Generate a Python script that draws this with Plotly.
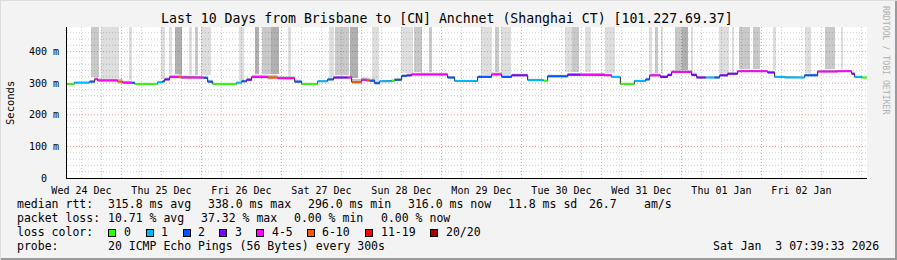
import datetime as dt
import plotly.graph_objects as go

# ---------------- data ----------------
START = dt.datetime(2025, 12, 24, 7, 39, 33)
SPAN_H = 240

# median rtt segments: start hour, value (ms), loss class
seg_start_h = [0, 2.2, 6.8, 8.3, 9.2, 15.2, 16.7, 19.4, 20.3, 27.2, 28.7, 29.3, 30.8, 33.5, 34.4,
               41, 42.2, 43.7, 50.9, 52.4, 53.9, 55.4, 60.2, 63.2, 68.3, 70.4, 75.2, 78.2, 80,
               84.2, 85.4, 88.4, 89.9, 90.8, 92.3, 93.8, 97.4, 98.3, 100.4, 101.9, 103.4, 114.2,
               116.3, 123.2, 127.4, 130.4, 133.4, 138.2, 143, 144.2, 150.2, 154, 161.3, 163.4,
               166, 170.2, 173.6, 174.8, 178, 180.2, 181.4, 187.4, 188.9, 191.6, 194.3, 195.8,
               198.2, 201.2, 210.2, 212.3, 215.3, 221.3, 225.2, 231.2, 235.4, 236.3, 238.4]
seg_ms = [298, 302, 305, 313, 309, 305, 302, 301, 298, 303, 306, 312, 320, 320, 318,
          317, 305, 298, 302, 306, 311, 320, 318, 316, 305, 298, 306, 312, 318,
          318, 304, 311, 309, 308, 300, 306, 308, 311, 323, 325, 328, 318,
          307, 320, 328, 320, 325, 310, 308, 322, 327, 327, 325, 320,
          298, 307, 312, 325, 320, 326, 336, 326, 318, 318, 318, 325,
          330, 338, 334, 320, 318, 325, 337, 338, 330, 320, 318]
seg_loss = [0, 1, 2, 4, 4, 5, 4, 2, 0, 1, 2, 3, 4, 5, 4,
            2, 2, 0, 1, 2, 3, 4, 5, 4, 2, 0, 1, 2, 3,
            4, 5, 4, 5, 2, 2, 1, 0, 2, 2, 3, 4, 2,
            1, 2, 4, 2, 3, 1, 0, 2, 3, 4, 4, 1,
            0, 1, 2, 4, 3, 3, 4, 3, 3, 1, 2, 3,
            3, 4, 3, 1, 1, 2, 4, 4, 3, 1, 0]
seg_smoke = [2, 3, 5, 6, 6, 9, 6, 5, 2, 4, 5, 6, 7, 9, 6,
             6, 6, 2, 3, 5, 6, 7, 9, 6, 6, 2, 4, 5, 6,
             6, 9, 7, 8, 6, 6, 4, 3, 5, 6, 6, 5, 5,
             3, 5, 6, 5, 5, 4, 3, 5, 5, 5, 5, 4,
             2, 4, 5, 6, 6, 6, 5, 7, 5, 4, 5, 6,
             5, 4, 5, 4, 3, 5, 5, 4, 5, 4, 2]

# loss "smoke" bars reaching the top: start hour, end hour, shade level
bar_start_h = [7.3, 10.3, 18.5, 28.3, 30.5, 32.3, 36.5, 38.3, 40.1, 51.5, 56.3, 58.4, 61.1, 66.2,
               78.5, 80.3, 84.8, 91.4, 100.1, 104.0, 108.5, 124.3, 128.3, 130.3, 149.3, 151.4,
               155.3, 161.3, 174.5, 176.3, 178.1, 182.3, 184.4, 187.1, 195.5, 199.4, 201.5,
               205.9, 211.9, 221.3, 227.3, 232.3]
bar_end_h = [9.5, 15.5, 19.4, 29.3, 31.6, 34.6, 37.6, 39.2, 43.1, 53.0, 57.5, 61.1, 63.5, 67.1,
             80.0, 84.5, 87.2, 93.5, 103.7, 106.4, 109.4, 127.6, 129.5, 133.3, 151.4, 153.5,
             157.3, 164.3, 175.6, 177.2, 178.9, 184.4, 186.2, 187.9, 198.5, 200.0, 205.0,
             208.0, 212.6, 223.3, 230.3, 232.8]
bar_shade = [2, 1, 1, 1, 1, 3, 1, 2, 1, 1, 3, 2, 3, 1,
             1, 2, 3, 1, 1, 2, 2, 1, 2, 1, 1, 2,
             1, 1, 1, 2, 1, 2, 3, 1, 1, 1, 2,
             2, 1, 1, 2, 1]

loss_labels = ["0", "1", "2", "3", "4-5", "6-10", "11-19", "20/20"]
loss_colors = ["#26ff00", "#00b8ff", "#0059ff", "#7e00ff", "#ff00ff", "#ff5500", "#ff0000", "#a10000"]
shade_colors = {1: "rgba(0,0,0,0.13)", 2: "rgba(0,0,0,0.21)", 3: "rgba(0,0,0,0.31)"}

day_labels = ["Wed 24 Dec", "Thu 25 Dec", "Fri 26 Dec", "Sat 27 Dec", "Sun 28 Dec",
              "Mon 29 Dec", "Tue 30 Dec", "Wed 31 Dec", "Thu 01 Jan", "Fri 02 Jan"]
y_major = [100, 200, 300, 400]
y_minor = [v for v in range(20, 480, 20) if v % 100 != 0]
y_ticks = [0, 100, 200, 300, 400]
y_ticktext = ["0\u00a0\u00a0", "100 m", "200 m", "300 m", "400 m"]
Y_MAX = 478

title = "Last 10 Days from Brisbane to [CN] Anchnet (Shanghai CT) [101.227.69.37]"

# ---------------- helpers ----------------
def T(h):
    return START + dt.timedelta(hours=h)

seg_end_h = seg_start_h[1:] + [SPAN_H]

def median_at(h):
    for s, e, v, sm in zip(seg_start_h, seg_end_h, seg_ms, seg_smoke):
        if s <= h < e:
            return v, sm
    return seg_ms[-1], seg_smoke[-1]

fig = go.Figure()

# loss bars from the top
bx, by, bb, bw, bc = [], [], [], [], []
for s, e, sh in zip(bar_start_h, bar_end_h, bar_shade):
    mid = (s + e) / 2
    v, sm = median_at(mid)
    base = v + sm + 2
    bx.append(T(mid))
    bb.append(base)
    by.append(Y_MAX - base)
    bw.append((e - s) * 3600 * 1000)
    bc.append(shade_colors[sh])
fig.add_trace(go.Bar(x=bx, y=by, base=bb, width=bw, marker=dict(color=bc, line=dict(width=0)),
                     hoverinfo="skip"))

# smoke band
sx = [T(h) for h in seg_start_h] + [T(SPAN_H)]
lo = [v - sm * 0.6 for v, sm in zip(seg_ms, seg_smoke)]
hi = [v + sm for v, sm in zip(seg_ms, seg_smoke)]
lo.append(lo[-1]); hi.append(hi[-1])
fig.add_trace(go.Scatter(x=sx, y=lo, mode="lines", line=dict(width=0, shape="hv"), hoverinfo="skip"))
fig.add_trace(go.Scatter(x=sx, y=hi, mode="lines", line=dict(width=0, shape="hv"), fill="tonexty",
                         fillcolor="rgba(0,0,0,0.24)", hoverinfo="skip"))

# dark step line (transitions)
stx, sty = [], []
for s, e, v in zip(seg_start_h, seg_end_h, seg_ms):
    stx += [T(s), T(e)]
    sty += [v, v]
fig.add_trace(go.Scatter(x=stx, y=sty, mode="lines", line=dict(color="#202020", width=1),
                         hoverinfo="skip"))

# coloured median segments by loss class
for ci, col in enumerate(loss_colors):
    xs, ys = [], []
    for s, e, v, c in zip(seg_start_h, seg_end_h, seg_ms, seg_loss):
        if c == ci:
            xs += [T(s), T(e), None]
            ys += [v, v, None]
    if xs:
        fig.add_trace(go.Scatter(x=xs, y=ys, mode="lines", line=dict(color=col, width=2),
                                 hoverinfo="skip"))

# axis arrows
fig.add_trace(go.Scatter(x=[T(SPAN_H + 1.3)], y=[0], mode="markers", cliponaxis=False,
                         marker=dict(symbol="triangle-right", size=7, color="#8b1a1a"),
                         hoverinfo="skip"))
fig.add_trace(go.Scatter(x=[T(0)], y=[Y_MAX + 15], mode="markers", cliponaxis=False,
                         marker=dict(symbol="triangle-up", size=7, color="#8b1a1a"),
                         hoverinfo="skip"))
# carrier for label axis
fig.add_trace(go.Scatter(x=[None], y=[None], xaxis="x2", hoverinfo="skip"))

midnights = [dt.datetime(2025, 12, 25) + dt.timedelta(days=i) for i in range(9)]
six_h = [dt.datetime(2025, 12, 24, 12) + dt.timedelta(hours=6 * i) for i in range(40)]
six_h = [t for t in six_h if t.hour != 0 and t <= T(SPAN_H)]
noons = [dt.datetime(2025, 12, 24, 12) + dt.timedelta(days=i) for i in range(10)]

FONT = "DejaVu Sans Mono"
RED = "#ff9a9a"
GREY = "#cfcfcf"
DOT = "1px,2px"

fig.update_layout(
    width=897, height=260,
    margin=dict(l=67, r=30, t=27, b=82, pad=0),
    paper_bgcolor="#f3f3f3", plot_bgcolor="#ffffff",
    showlegend=False, barmode="overlay", bargap=0,
    font=dict(family=FONT, size=10, color="#000000"),
    xaxis=dict(type="date", range=[T(0), T(SPAN_H)], showticklabels=False, ticks="",
               showgrid=False, zeroline=False, showline=True, linecolor="#000000", linewidth=1),
    xaxis2=dict(type="date", overlaying="x", range=[T(0), T(SPAN_H)], tickmode="array",
                tickvals=noons, ticktext=day_labels, showgrid=False, zeroline=False, ticks="",
                side="bottom", ticklabelstandoff=5,
                tickfont=dict(family=FONT, size=10, color="#000000")),
    yaxis=dict(range=[0, Y_MAX], tickmode="array", tickvals=y_ticks, ticktext=y_ticktext,
               showgrid=False, zeroline=False,
               showline=True, linecolor="#000000", linewidth=1, ticks="", ticklabelstandoff=5,
               tickfont=dict(family=FONT, size=10, color="#000000")),
)

shapes = []
for t in six_h:
    shapes.append(dict(type="line", xref="x", yref="paper", x0=t, x1=t, y0=0, y1=1,
                       layer="below", line=dict(color=GREY, width=1, dash=DOT)))
for v in y_minor:
    shapes.append(dict(type="line", xref="paper", yref="y", x0=0, x1=1, y0=v, y1=v,
                       layer="below", line=dict(color=GREY, width=1, dash=DOT)))
for m in midnights:
    shapes.append(dict(type="line", xref="x", yref="paper", x0=m, x1=m, y0=0, y1=1,
                       layer="below", line=dict(color=RED, width=1, dash=DOT)))
for v in y_major:
    shapes.append(dict(type="line", xref="paper", yref="y", x0=0, x1=1, y0=v, y1=v,
                       layer="below", line=dict(color=RED, width=1, dash=DOT)))

L, W, TOP, H = 67, 800, 27, 151
def px(x):
    return (x - L) / W
def py(y):
    return (TOP + H - y) / H

ann = []
def text(x, y, s, size=11.5, anchor="left", color="#000000", angle=0):
    ann.append(dict(x=px(x), y=py(y), xref="paper", yref="paper", text=s, showarrow=False,
                    xanchor=anchor, yanchor="middle", textangle=angle,
                    font=dict(family=FONT, size=size, color=color), borderpad=0))

text(446.5, 19, title, size=13.2, anchor="center")
text(10, 103, "Seconds", size=10.5, anchor="center", angle=-90)
text(886, 60, "RRDTOOL / TOBI OETIKER", size=8.2, anchor="center", color="#b0b0b0", angle=90)

# legend lines
text(16, 204, "median rtt:")
for x, s in zip([107.3, 207.3, 307.3, 407.3, 507, 588, 643],
                ["315.8 ms avg", "338.0 ms max", "296.0 ms min", "316.0 ms now", "11.8 ms sd",
                 "26.7", "am/s"]):
    text(x, 204, s)
text(16, 218, "packet loss:")
for x, s in zip([107.3, 200, 292.7, 380], ["10.71 % avg", "37.32 % max", "0.00 % min", "0.00 % now"]):
    text(x, 218, s)
text(16, 232, "loss color:")
box_x = [108.3, 145.7, 182.7, 219.3, 256, 306.7, 365, 430]
for bxp, lab, col in zip(box_x, loss_labels, loss_colors):
    ann.append(dict(x=px(bxp), y=py(232.8), xref="paper", yref="paper", text=" ", showarrow=False,
                    xanchor="left", yanchor="middle", width=6, height=6, bgcolor=col,
                    bordercolor="#000000", borderwidth=1, borderpad=0,
                    font=dict(family=FONT, size=4)))
    text(bxp + 14.5, 232, lab)
text(16, 246, "probe:")
text(107.3, 246, "20 ICMP Echo Pings (56 Bytes) every 300s")
text(880, 246, "Sat Jan  3 07:39:33 2026", anchor="right")

# image frame
shapes += [
    dict(type="line", xref="paper", yref="paper", x0=px(0), x1=px(897), y0=py(259), y1=py(259),
         line=dict(color="#9a9a9a", width=2)),
    dict(type="line", xref="paper", yref="paper", x0=px(896), x1=px(896), y0=py(0), y1=py(260),
         line=dict(color="#9a9a9a", width=2)),
    dict(type="line", xref="paper", yref="paper", x0=px(0), x1=px(897), y0=py(0.5), y1=py(0.5),
         line=dict(color="#dcdcdc", width=1)),
    dict(type="line", xref="paper", yref="paper", x0=px(0.5), x1=px(0.5), y0=py(0), y1=py(260),
         line=dict(color="#dcdcdc", width=1)),
]
fig.update_layout(annotations=ann, shapes=shapes)

fig.write_html("out.html")
